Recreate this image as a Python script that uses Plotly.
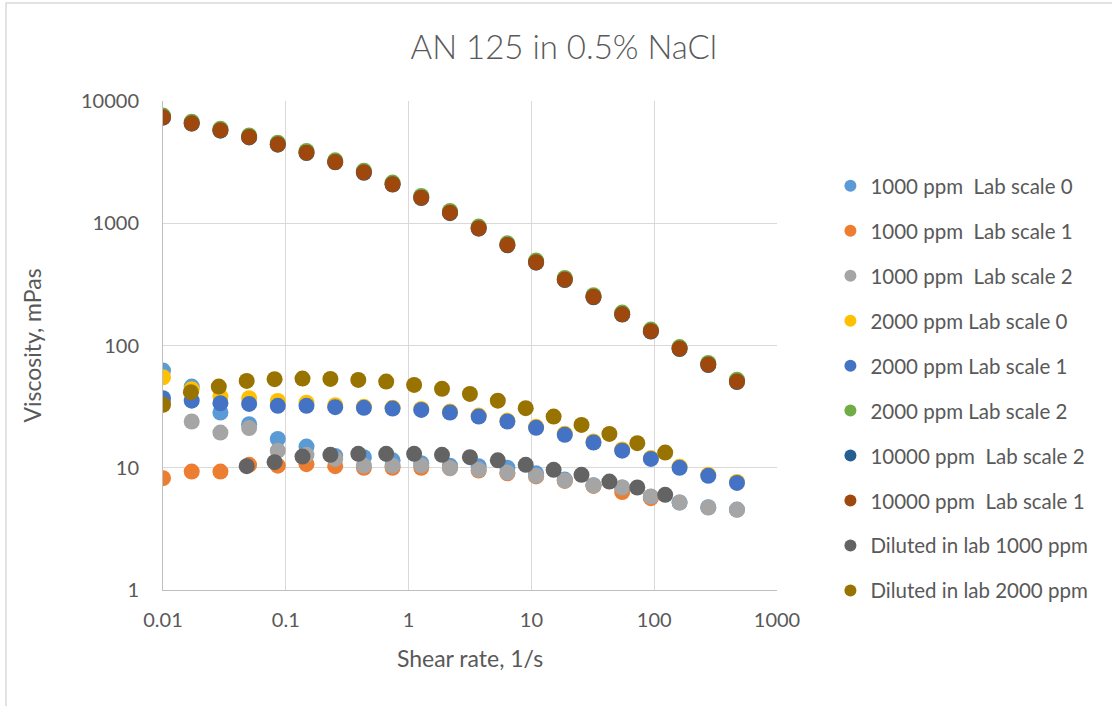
import plotly.graph_objects as go

# Shear rates (1/s) for the lab-scale measurements and the diluted samples
shear_lab = [0.01, 0.01713, 0.02935, 0.05026, 0.08606, 0.1474, 0.2525, 0.4324,
             0.7406, 1.268, 2.173, 3.721, 6.374, 10.92, 18.70, 32.03, 54.86,
             93.96, 160.9, 275.6, 472.1]
shear_dil = [0.01, 0.01687, 0.02847, 0.04803, 0.08105, 0.1368, 0.2308, 0.3894,
             0.6571, 1.109, 1.871, 3.157, 5.327, 8.988, 15.17, 25.59, 43.18,
             72.86, 122.9]

# Viscosity (mPas)
v1000_ls0 = [62.3, 46.1, 28.3, 22.7, 17.2, 14.9, 12.5, 12.2, 11.5, 10.9, 10.4,
             10.3, 10.0, 9.0, 8.0, 7.2, 6.9, 5.8, 5.2, 4.75, 4.55]
v1000_ls1 = [8.22, 9.31, 9.31, 10.56, 10.4, 10.7, 10.3, 10.0, 10.0, 10.0, 9.92,
             9.5, 9.0, 8.5, 7.8, 7.1, 6.32, 5.64]
v1000_ls2 = [34.0, 23.9, 19.4, 21.1, 13.8, 12.75, 11.8, 10.4, 10.4, 10.45, 9.92,
             9.61, 9.14, 8.59, 7.86, 7.15, 6.89, 5.81, 5.19, 4.73, 4.53]
v2000_ls0 = [55.0, 43.9, 38.2, 37.1, 35.2, 34.0, 32.5, 31.5, 31.0, 30.3, 28.8,
             26.7, 24.3, 21.6, 19.0, 16.4, 14.1, 12.0, 10.2, 8.75, 7.65]
v2000_ls1 = [37.1, 35.4, 33.7, 33.3, 32.1, 32.1, 31.3, 30.9, 30.5, 29.7, 28.3,
             26.2, 23.9, 21.2, 18.6, 16.1, 13.8, 11.8, 9.98, 8.59, 7.52]
v2000_ls2 = [7600, 6780, 5940, 5230, 4560, 3900, 3270, 2690, 2150, 1670, 1260,
             940, 685, 495, 357, 258, 186, 135, 97.0, 72.0, 52.5]
v10000_ls2 = [7300, 6520, 5720, 5040, 4390, 3750, 3150, 2590, 2070, 1610, 1210,
              903, 660, 476, 343, 248, 179, 130, 93.6, 69.3, 50.3]
v10000_ls1 = [7360, 6570, 5760, 5075, 4425, 3780, 3170, 2610, 2085, 1620, 1220,
              910, 665, 480, 346, 250, 180, 131, 94.3, 69.8, 50.7]
v_dil1000 = [10.3, 11.1, 12.35, 12.75, 13.0, 13.0, 13.0, 12.75, 12.2, 11.5,
             10.56, 9.61, 8.75, 7.71, 6.89, 6.0]
v_dil2000 = [32.7, 41.5, 46.1, 51.3, 53.0, 53.6, 53.3, 52.3, 50.7, 47.6, 44.2,
             40.2, 35.4, 30.7, 26.2, 22.4, 18.9, 15.9, 13.3]

series = [
    ("1000 ppm  Lab scale 0", shear_lab, v1000_ls0, "#5B9BD5"),
    ("1000 ppm  Lab scale 1", shear_lab, v1000_ls1, "#ED7D31"),
    ("1000 ppm  Lab scale 2", shear_lab, v1000_ls2, "#A5A5A5"),
    ("2000 ppm Lab scale 0", shear_lab, v2000_ls0, "#FFC000"),
    ("2000 ppm Lab scale 1", shear_lab, v2000_ls1, "#4472C4"),
    ("2000 ppm Lab scale 2", shear_lab, v2000_ls2, "#70AD47"),
    ("10000 ppm  Lab scale 2", shear_lab, v10000_ls2, "#255E91"),
    ("10000 ppm  Lab scale 1", shear_lab, v10000_ls1, "#9E480E"),
    ("Diluted in lab 1000 ppm", shear_dil[3:], v_dil1000, "#636363"),
    ("Diluted in lab 2000 ppm", shear_dil, v_dil2000, "#997300"),
]

x_ticks = [0.01, 0.1, 1, 10, 100, 1000]
x_ticktext = ["0.01", "0.1", "1", "10", "100", "1000"]
y_ticks = [1, 10, 100, 1000, 10000]
y_ticktext = ["1", "10", "100", "1000", "10000"]

FONT = "Lato"
TXT = "#595959"

fig = go.Figure()
for i, (name, xs, ys, col) in enumerate(series):
    fig.add_trace(go.Scatter(
        x=xs[:len(ys)], y=ys, mode="markers", name=name,
        legendgroup=f"g{i}",
        marker=dict(color=col, size=16, line=dict(width=0)),
    ))

fig.update_layout(
    width=1112, height=706,
    margin=dict(l=163, r=335, t=101, b=116),
    paper_bgcolor="white", plot_bgcolor="white",
    font=dict(family=FONT, color=TXT, size=20),
    title=dict(text="AN 125 in 0.5% NaCl", x=0.507, xanchor="center",
               y=0.933, yanchor="middle",
               font=dict(family=FONT, size=33, color=TXT, weight=300)),
    legend=dict(x=1.087, y=0.867, xanchor="left", yanchor="top",
                font=dict(family=FONT, size=20.5, color=TXT),
                tracegroupgap=15.3, itemsizing="constant",
                bgcolor="rgba(0,0,0,0)"),
    showlegend=True,
)

fig.update_xaxes(
    type="log", range=[-2, 3], tickvals=x_ticks, ticktext=x_ticktext,
    showgrid=True, gridcolor="#D9D9D9", gridwidth=1,
    showline=True, linecolor="#BFBFBF", linewidth=1, mirror=False,
    zeroline=False, ticks="", ticklabelstandoff=12,
    tickfont=dict(size=20, color=TXT),
    title=dict(text="Shear rate, 1/s", font=dict(size=23, color=TXT), standoff=20),
)
fig.update_yaxes(
    type="log", range=[0, 4], tickvals=y_ticks, ticktext=y_ticktext,
    showgrid=True, gridcolor="#D9D9D9", gridwidth=1,
    showline=True, linecolor="#BFBFBF", linewidth=1,
    zeroline=False, ticks="", ticklabelstandoff=19,
    tickfont=dict(size=20, color=TXT),
    title=dict(text="Viscosity, mPas", font=dict(size=23, color=TXT), standoff=32),
)

# Chart-area frame
fig.add_shape(type="rect", xref="paper", yref="paper",
              x0=(6 - 163) / 614, x1=(1130 - 163) / 614,
              y0=(590 - 720) / 489, y1=(590 - 3) / 489,
              line=dict(color="#D9D9D9", width=1.5), layer="below")

fig.write_html("out.html")
